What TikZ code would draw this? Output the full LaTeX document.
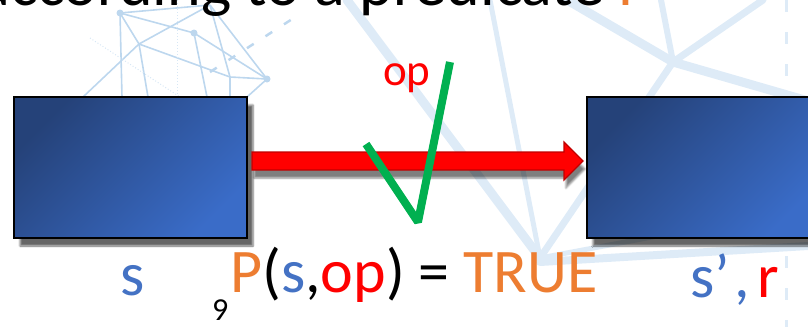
\documentclass[tikz,border=0pt]{standalone}
\usepackage{fontspec}
\setmainfont{Carlito}
\usepackage{tikz}
\usetikzlibrary{arrows.meta, positioning, calc, shadows.blur}
\definecolor{colorA}{HTML}{4472C4}
\definecolor{colorB}{HTML}{ED7D31}
\definecolor{colorC}{HTML}{FF0000}
\definecolor{colorD}{HTML}{00B050}
\definecolor{colorE}{HTML}{DEEBF7}
\definecolor{colorF}{HTML}{BDD7EE}
\definecolor{colorG}{HTML}{254279}
\definecolor{colorH}{HTML}{3A6CC8}

\begin{document}
\begin{tikzpicture}[
  x=1pt, y=-1pt,
  net/.style={colorE, line width=#1, line cap=round},
  net/.default=6,
  wire/.style={colorF, line width=1.6},
  state/.style={
    draw=black, line width=2, inner sep=0,
    minimum width=233, minimum height=141,
    top color=colorG, bottom color=colorH, shading angle=45,
    blur shadow={shadow xshift=6pt, shadow yshift=-8pt, shadow opacity=60}
  },
  lbl/.style={inner sep=0, anchor=base west, font=\fontsize{62}{70}\selectfont}
]
\useasboundingbox (0,0) rectangle (808,327);
\clip (0,0) rectangle (808,327);

\draw[net=9] (347,0) -- (540,258);
\draw[net=5] (490,0) -- (540,258);
\draw[net=9] (567,0) -- (673,62) -- (808,101);
\draw[net=6] (661,0) -- (673,62);
\draw[net=7] (763,0) -- (673,62) -- (540,258);
\draw[net=8] (540,262) -- (808,246);
\draw[net=5] (540,258) -- (700,228);
\draw[colorE, line width=3, dash pattern=on 12pt off 20pt] (786,0) -- (786,327);

\coordinate (pA) at (120,13);
\coordinate (pT) at (210,5);
\coordinate (pC) at (194,33);
\coordinate (pD) at (139,44);
\coordinate (pE) at (230,77);
\coordinate (pF) at (267,79);
\foreach \a/\b in {pA/pT, pA/pD, pA/pC, pD/pT, pD/pE, pT/pE, pT/pF, pC/pF, pE/pF}
  \draw[wire] (\a) -- (\b);
\draw[wire] (pA) -- (122,97);
\draw[wire] (pD) -- (83,97);
\draw[wire] (pD) -- (148,97);
\draw[wire] (pC) -- (207,97);
\draw[wire] (pE) -- (230,97);
\draw[wire] (pF) -- (247,97);
\draw[colorF!60, dotted, line width=1] (90,38) -- (180,97);
\draw[colorF!60, dotted, line width=1] (177,0) -- (177,97);
\draw[colorF, line width=2.5, dash pattern=on 8pt off 14pt] (210,72) -- (300,14);
\foreach \p in {pA, pC, pF}
  \fill[colorF] (\p) circle (3.5);

\node[lbl, anchor=base east, font=\fontsize{64}{70}\selectfont] (title) at (652,5)
  {according to a predicate \textcolor{colorB}{P}};

\node[state] (s) at (130.5,167.5) {};
\node[state] (sp) at (703.5,167.5) {};

\coordinate (a0) at ($(s.east)+(4,-6.5)$);
\coordinate (a1) at ($(sp.west)+(-3,-6.5)$);
\filldraw[
  fill=colorC, draw=colorC!75!black, line width=1.2,
  blur shadow={shadow xshift=2pt, shadow yshift=-8pt, shadow opacity=50}
] ($(a0)+(0,-9)$) -- ($(a1)+(-19,-9)$) -- ($(a1)+(-19,-19)$) -- (a1)
  -- ($(a1)+(-19,19)$) -- ($(a1)+(-19,9)$) -- ($(a0)+(0,9)$) -- cycle;

\draw[colorD, line width=8, line join=bevel] (366,144) -- (418,222) -- (450,62);
\node[lbl, colorC, font=\fontsize{45}{50}\selectfont] (op) at (383,85) {op};

\node[lbl, colorA] (slbl) at (120,295) {s};
\node[lbl] (pred) at (230,292)
  {\textcolor{colorB}{P}(\textcolor{colorA}{s},\textcolor{colorC}{op}) = \textcolor{colorB}{TRUE}};
\node[lbl] (splbl) at (690,297)
  {\textcolor{colorA}{s’\kern5pt,}\kern7pt\textcolor{colorC}{r}};
\node[lbl, font=\fontsize{32}{36}\selectfont] (num) at (212,320) {9};
\end{tikzpicture}
\end{document}
